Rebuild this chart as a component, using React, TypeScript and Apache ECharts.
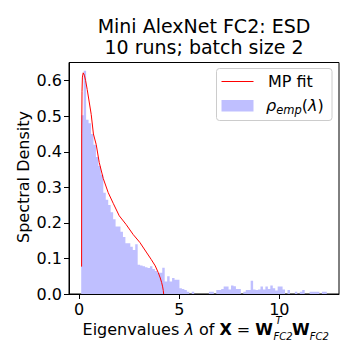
import React, { useEffect, useRef } from "react";
import * as echarts from "echarts";

// Histogram (empirical spectral density), 100 equal bins
const binMin = 0.1;
const binMax = 12.37;
const densities = [
  0.503, 0.628, 0.49, 0.48, 0.45, 0.42, 0.385, 0.36, 0.335, 0.285,
  0.265, 0.25, 0.23, 0.21, 0.19, 0.19, 0.175, 0.16, 0.143, 0.143,
  0.133, 0.124, 0.14, 0.082, 0.08, 0.078, 0.075, 0.073, 0.078, 0.07,
  0.065, 0.06, 0.06, 0.074, 0.035, 0.05, 0.035, 0.045, 0.04, 0.04,
  0.016, 0.014, 0.011, 0.006, 0, 0.006, 0, 0, 0, 0,
  0, 0, 0.006, 0.006, 0, 0.011, 0.011, 0.014, 0.021, 0.021,
  0.013, 0.024, 0.022, 0.014, 0.014, 0, 0.006, 0.011, 0.011, 0.037,
  0.013, 0.011, 0.013, 0.021, 0.013, 0.021, 0.014, 0.024, 0.016, 0.01,
  0.021, 0.021, 0.013, 0, 0.011, 0, 0, 0.006, 0, 0.006,
  0.011, 0, 0, 0.006, 0.006, 0.006, 0.006, 0, 0.006, 0.006,
];

// MP fit curve
const mpLambda = [
  0.12, 0.125, 0.14, 0.16, 0.2, 0.26, 0.32, 0.4, 0.5, 0.6, 0.71, 0.85, 1.0,
  1.2, 1.45, 1.7, 2.0, 2.35, 2.7, 3.03, 3.35, 3.6, 3.8, 3.95, 4.05, 4.12,
  4.17, 4.2, 4.22,
];
const mpDensity = [
  0.077, 0.45, 0.57, 0.61, 0.622, 0.615, 0.6, 0.575, 0.54, 0.505, 0.45,
  0.42, 0.37, 0.325, 0.285, 0.255, 0.22, 0.195, 0.167, 0.145, 0.118, 0.097,
  0.079, 0.06, 0.045, 0.032, 0.02, 0.01, 0.0,
];

const xTicks = [0, 5, 10];
const yTicks = [0, 0.1, 0.2, 0.3, 0.4, 0.5, 0.6];

const titleLines = ["Mini AlexNet FC2: ESD", "10 runs; batch size 2"];
const yLabel = "Spectral Density";
const legendNames = ["MP fit", "ρemp(λ)"];

const FONT = "DejaVu Sans";
const BAR = "#bfbfff";

export default function App() {
  const ref = useRef<HTMLDivElement>(null);
  useEffect(() => {
    if (!ref.current) return;
    const chart = echarts.init(ref.current, null, { renderer: "svg" });
    const w = (binMax - binMin) / densities.length;
    // step outline of the histogram: each bin's left edge with its density, closed at the last edge
    const histData: number[][] = densities.map((d, i) => [binMin + i * w, d]);
    histData.push([binMax, 0]);
    const mpData = mpLambda.map((l, i) => [l, mpDensity[i]]);

    const rich = {
      n: { fontSize: 16, fontFamily: FONT, lineHeight: 24, fill: "#000" },
      i: { fontSize: 16, fontFamily: FONT, fontStyle: "italic", lineHeight: 24, fill: "#000" },
      b: { fontSize: 16, fontFamily: FONT, fontWeight: "bold", lineHeight: 24, fill: "#000" },
      s: { fontSize: 10, fontFamily: FONT, fontStyle: "italic", lineHeight: 10, verticalAlign: "bottom", fill: "#000" },
    };

    chart.setOption({
      animation: false,
      backgroundColor: "#fff",
      textStyle: { fontFamily: FONT },
      grid: {
        left: 69,
        right: 21,
        top: 62.5,
        bottom: 66,
        show: true,
        borderColor: "#000",
        borderWidth: 1,
        backgroundColor: "transparent",
      },
      xAxis: {
        type: "value",
        min: -0.51,
        max: 12.98,
        splitLine: { show: false },
        axisLine: { show: true, onZero: false, lineStyle: { color: "#000", width: 1 } },
        axisTick: { show: true, length: 5, lineStyle: { color: "#000" }, customValues: xTicks },
        axisLabel: {
          customValues: xTicks,
          fontSize: 16,
          color: "#000",
          fontFamily: FONT,
          margin: 7,
          formatter: (v: number) => String(v),
        },
      },
      yAxis: {
        type: "value",
        min: 0,
        max: 0.651,
        splitLine: { show: false },
        axisLine: { show: true, onZero: false, lineStyle: { color: "#000", width: 1 } },
        axisTick: { show: true, length: 5, lineStyle: { color: "#000" }, customValues: yTicks },
        axisLabel: {
          customValues: yTicks,
          fontSize: 16,
          color: "#000",
          fontFamily: FONT,
          margin: 7,
          formatter: (v: number) => v.toFixed(1),
        },
      },
      series: [
        {
          type: "line",
          name: legendNames[1],
          data: histData,
          step: "end",
          showSymbol: false,
          symbol: "none",
          z: 2,
          lineStyle: { width: 0, color: BAR, opacity: 0 },
          areaStyle: { color: BAR, opacity: 1, origin: "start" },
        },
        {
          type: "line",
          name: legendNames[0],
          data: mpData,
          showSymbol: false,
          symbol: "none",
          z: 3,
          lineStyle: { color: "#ff0000", width: 1 },
        },
      ],
      graphic: [
        {
          type: "text",
          x: 204,
          y: 26,
          style: { text: titleLines[0], fontSize: 19, fontFamily: FONT, fill: "#000", align: "center", verticalAlign: "middle" },
        },
        {
          type: "text",
          x: 204,
          y: 47,
          style: { text: titleLines[1], fontSize: 19, fontFamily: FONT, fill: "#000", align: "center", verticalAlign: "middle" },
        },
        {
          type: "text",
          x: 23,
          y: 177,
          rotation: Math.PI / 2,
          style: { text: yLabel, fontSize: 16, fontFamily: FONT, fill: "#000", align: "center", verticalAlign: "middle" },
        },
        {
          type: "text",
          x: 273,
          y: 329,
          style: {
            text: "{n|Eigenvalues }{i|λ}{n| of }{b|X}{n| = }{b|W}",
            align: "right",
            verticalAlign: "middle",
            fill: "#000",
            rich,
          },
        },
        {
          type: "text",
          x: 273.5,
          y: 336.5,
          style: { text: "FC2", fontSize: 10, fontFamily: FONT, fontStyle: "italic", fill: "#000", align: "left", verticalAlign: "middle", lineHeight: 10 },
        },
        {
          type: "text",
          x: 275.5,
          y: 320.5,
          style: { text: "T", fontSize: 10, fontFamily: FONT, fontStyle: "italic", fill: "#000", align: "left", verticalAlign: "middle", lineHeight: 10 },
        },
        {
          type: "text",
          x: 292,
          y: 329,
          style: {
            text: "{b|W}{s|FC2}",
            align: "left",
            verticalAlign: "middle",
            fill: "#000",
            rich,
          },
        },
        {
          type: "group",
          z: 100,
          children: [
            {
              type: "rect",
              shape: { x: 216.5, y: 68.5, width: 115.5, height: 52, r: 3 },
              style: { fill: "rgba(255,255,255,0.8)", stroke: "#cccccc", lineWidth: 1 },
            },
            {
              type: "line",
              shape: { x1: 221.5, y1: 81.5, x2: 253.5, y2: 81.5 },
              style: { stroke: "#ff0000", lineWidth: 1 },
            },
            {
              type: "text",
              x: 268,
              y: 81,
              style: { text: legendNames[0], fontSize: 16, fontFamily: FONT, fill: "#000", align: "left", verticalAlign: "middle" },
            },
            {
              type: "rect",
              shape: { x: 221.5, y: 100, width: 32, height: 11.5 },
              style: { fill: BAR },
            },
            {
              type: "text",
              x: 266,
              y: 105,
              style: {
                text: "{i|ρ}{s|emp}{n|(}{i|λ}{n|)}",
                align: "left",
                verticalAlign: "middle",
                fill: "#000",
                rich: {
                  n: { fontSize: 16, fontFamily: FONT, lineHeight: 22, fill: "#000" },
                  i: { fontSize: 16, fontFamily: FONT, fontStyle: "italic", lineHeight: 22, fill: "#000" },
                  s: { fontSize: 11.5, fontFamily: FONT, fontStyle: "italic", lineHeight: 10, verticalAlign: "bottom", fill: "#000" },
                },
              },
            },
          ],
        },
      ],
    });
    return () => chart.dispose();
  }, []);
  return (
    <div
      ref={ref}
      style={{ position: "fixed", left: 0, top: 0, width: 360, height: 360 }}
    />
  );
}
